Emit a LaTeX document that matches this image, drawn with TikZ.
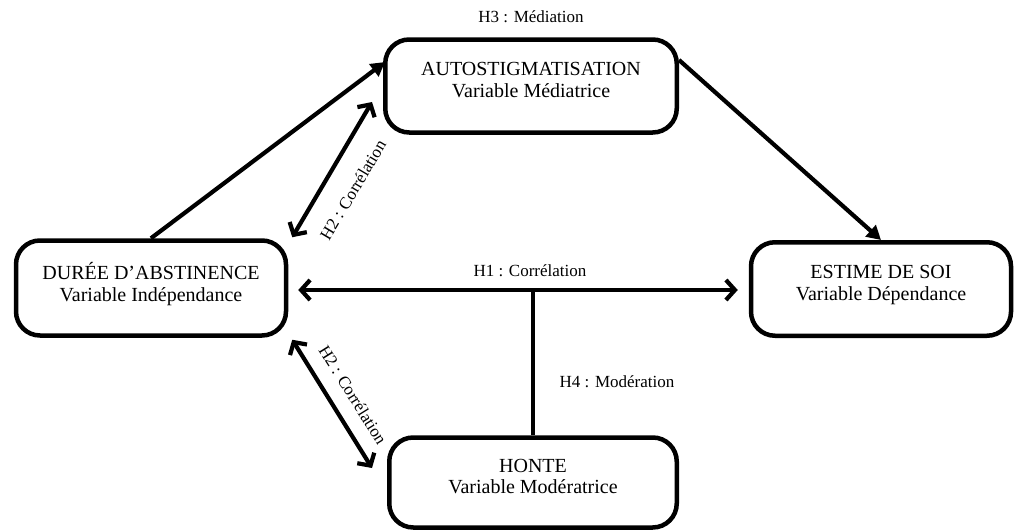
\documentclass[tikz,border=0pt]{standalone}
\usepackage{fontspec}
\setmainfont{Liberation Serif}
\usetikzlibrary{arrows.meta,calc}
\begin{document}
\begin{tikzpicture}[x=1pt,y=-1pt,
  box/.style={draw, line width=4.5pt, rounded corners=24pt, align=center,
    font=\fontsize{20}{21.5}\selectfont, inner sep=0pt, text depth=12pt},
  lbl/.style={font=\fontsize{17}{20}\selectfont, inner sep=0pt},
  conn/.style={line width=4.2pt},
  tri/.style={conn, -{Triangle[length=14pt,width=15pt]}},
  dbl/.style={conn, {Straight Barb[length=9pt,width=20pt]}-{Straight Barb[length=9pt,width=20pt]}}]
\useasboundingbox (0,0) rectangle (1014,530);
\node[box, minimum width=291.5pt, minimum height=93pt] (auto) at (531,86)
  {AUTOSTIGMATISATION\\Variable Médiatrice};
\node[box, minimum width=270pt, minimum height=95pt] (duree) at (151,288)
  {DURÉE D’ABSTINENCE\\Variable Indépendance};
\node[box, minimum width=260pt, minimum height=93.5pt] (estime) at (881,289)
  {ESTIME DE SOI\\Variable Dépendance};
\node[box, minimum width=287.5pt, minimum height=90pt] (honte) at (533,482.5)
  {HONTE\\Variable Modératrice};
% connectors
\draw[tri] (duree.north) -- ([shift={(2,-24)}]auto.west);
\draw[tri] ([shift={(0,-26)}]auto.east) -- (estime.north);
\coordinate (h1a) at ([shift={(10,2)}]duree.east);
\coordinate (h1b) at ([shift={(-11,1)}]estime.west);
\draw[dbl] (h1a) -- (h1b);
\draw[conn] (honte.north) -- (honte.north |- h1a);
\draw[dbl] ([shift={(4,-1)}]duree.north east) -- ([shift={(-11,16)}]auto.west);
\draw[dbl] ([shift={(4,2)}]duree.south east) -- ([shift={(-15,-14.5)}]honte.west);
% labels
\node[lbl] (h3) at (531,17) {H3 : Médiation};
\node[lbl] (h1) at (530,271) {H1 : Corrélation};
\node[lbl] (h4) at (617,382) {H4 : Modération};
\node[lbl, rotate=59.3] (h2a) at (353,190) {H2 : Corrélation};
\node[lbl, rotate=-58] (h2b) at (353,395) {H2 : Corrélation};
\end{tikzpicture}
\end{document}
